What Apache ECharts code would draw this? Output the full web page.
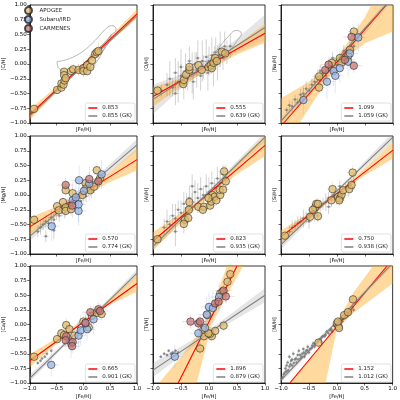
<!DOCTYPE html>
<html>
<head>
<meta charset="utf-8">
<script src="https://cdn.jsdelivr.net/npm/echarts@6/dist/echarts.min.js"></script>
<style>
  html, body { margin: 0; padding: 0; background: #fff; }
  #chart { width: 400px; height: 400px; }
</style>
</head>
<body>
<div id="chart"></div>
<script>
// panel order: row by row
const elements = ['[C/H]', '[O/H]', '[Na/H]', '[Mg/H]', '[Al/H]', '[Si/H]', '[Ca/H]', '[Ti/H]', '[Ni/H]'];
const redLabels = ['0.853', '0.555', '1.099', '0.570', '0.823', '0.750', '0.665', '1.896', '1.152'];
const gkLabels = ['0.855 (GK)', '0.639 (GK)', '1.059 (GK)', '0.774 (GK)', '0.935 (GK)', '0.938 (GK)', '0.901 (GK)', '0.879 (GK)', '1.012 (GK)'];
const surveys = ['APOGEE', 'Subaru/IRD', 'CARMENES'];

// fitted lines, [x, y] end points
const redLines = [
  [[-1, -0.86], [1, 0.85]],
  [[-1, -0.55], [1, 0.52]],
  [[-0.95, -1], [0.88, 1]],
  [[-1, -0.54], [1, 0.6]],
  [[-1, -0.78], [1, 0.84]],
  [[-1, -0.71], [1, 0.76]],
  [[-1, -0.62], [1, 0.7]],
  [[-0.55, -1], [0.5, 1]],
  [[-0.84, -1], [0.9, 1]]
];
const gkLines = [
  [[-1, -0.88], [1, 0.82]],
  [[-1, -0.6], [1, 0.62]],
  [[-1, -0.97], [0.87, 1]],
  [[-1, -0.7], [1, 0.85]],
  [[-1, -0.87], [1, 0.98]],
  [[-1, -0.84], [1, 0.98]],
  [[-1, -0.92], [1, 0.88]],
  [[-1, -0.78], [1, 0.5]],
  [[-1, -0.95], [1, 1.05]]
];

// confidence bands, [x, low, high]
const orangeBands = [
  [[-1, -0.95, -0.77], [-0.5, -0.48, -0.38], [-0.1, -0.11, -0.07], [0.5, 0.38, 0.47], [1, 0.77, 0.93]],
  [[-1, -0.72, -0.4], [-0.5, -0.38, -0.24], [-0.1, -0.15, -0.09], [0.5, 0.16, 0.33], [1, 0.36, 0.68]],
  [[-1, -1.5, -0.58], [-0.5, -0.75, -0.3], [0, -0.02, 0.1], [0.5, 0.35, 0.8], [1, 0.55, 1.7]],
  [[-1, -0.68, -0.38], [-0.5, -0.35, -0.2], [0, -0.02, 0.04], [0.5, 0.22, 0.4], [1, 0.42, 0.78]],
  [[-1, -0.93, -0.63], [-0.5, -0.47, -0.3], [-0.05, -0.08, -0.02], [0.5, 0.35, 0.55], [1, 0.66, 1.0]],
  [[-1, -0.82, -0.6], [-0.5, -0.4, -0.3], [0, 0.0, 0.04], [0.5, 0.33, 0.46], [1, 0.62, 0.9]],
  [[-1, -0.73, -0.51], [-0.5, -0.33, -0.23], [0.1, 0.1, 0.14], [0.5, 0.34, 0.44], [1, 0.56, 0.84]],
  [[-1, -3.9, -1.12], [-0.5, -2.0, -0.55], [-0.22, -1.0, -0.2], [0.05, 0.0, 0.29], [0.32, 0.5, 1.0], [0.61, 1.0, 1.8], [1, 1.7, 2.8]],
  [[-1, -3, -1.15], [-0.5, -2.3, -0.6], [-0.2, -1.0, -0.25], [0, -0.08, 0.03], [0.3, 0.2, 0.55], [0.65, 0.45, 1.0], [1, 0.7, 1.6]]
];
const grayBands = [
  [[-1, -0.92, -0.84], [0, -0.045, -0.015], [1, 0.78, 0.86]],
  [[-1, -0.85, -0.35], [-0.5, -0.42, -0.18], [0, -0.05, 0.07], [0.5, 0.19, 0.43], [1, 0.4, 0.84]],
  [[-1, -1.03, -0.91], [0, -0.05, 0.05], [1, 1.08, 1.22]],
  [[-1, -0.78, -0.62], [0, 0.05, 0.1], [1, 0.75, 0.95]],
  [[-1, -0.95, -0.79], [0, 0.04, 0.09], [1, 0.9, 1.06]],
  [[-1, -0.92, -0.76], [0, 0.05, 0.09], [1, 0.9, 1.06]],
  [[-1, -0.98, -0.86], [0, -0.04, 0.0], [1, 0.82, 0.94]],
  [[-1, -0.9, -0.66], [0, -0.18, -0.1], [1, 0.38, 0.62]],
  [[-1, -1.0, -0.9], [0, 0.02, 0.08], [1, 1.0, 1.1]]
];

// density contours of the GK sample, [x, y] vertices
const contours = [
  [
    [[-0.49, 0.04], [-0.26, 0.09], [0.0, 0.22], [0.22, 0.4], [0.46, 0.63], [0.55, 0.65], [0.61, 0.58], [0.49, 0.46], [0.37, 0.23], [0.25, 0.04], [0.1, -0.1], [-0.08, -0.13], [-0.32, -0.13], [-0.46, -0.07], [-0.49, 0.04]],
    [[0.12, 0.14], [0.3, 0.28], [0.45, 0.42], [0.52, 0.5], [0.47, 0.36], [0.32, 0.18], [0.18, 0.08], [0.12, 0.14]]
  ],
  [
    [[0.02, 0.1], [0.18, 0.28], [0.32, 0.44], [0.49, 0.57], [0.58, 0.52], [0.49, 0.38], [0.38, 0.24], [0.2, 0.1], [0.05, 0.04], [0.02, 0.1]],
    [[-0.45, -0.15], [-0.3, -0.02], [-0.1, 0.05], [0.0, 0.0], [-0.15, -0.1], [-0.35, -0.22], [-0.45, -0.15]]
  ],
  [], [], [], [], [], [], []
];

// stars, [x, y, xerr, yerr]
const apogee = [
  [[-0.92, -0.76, 0.05, 0.05], [-0.49, -0.44, 0.06, 0.06], [-0.41, -0.40, 0.05, 0.06], [-0.41, -0.33, 0.05, 0.05], [-0.37, -0.35, 0.06, 0.05], [-0.36, -0.13, 0.05, 0.06], [-0.36, -0.19, 0.05, 0.05], [-0.35, -0.28, 0.05, 0.06], [-0.33, -0.24, 0.06, 0.05], [-0.23, -0.12, 0.08, 0.08], [-0.19, -0.09, 0.08, 0.1], [-0.09, -0.10, 0.1, 0.1], [0.0, -0.07, 0.15, 0.15], [0.0, -0.12, 0.1, 0.1], [0.07, -0.02, 0.2, 0.1], [0.07, -0.12, 0.1, 0.08], [0.13, -0.05, 0.1, 0.1], [0.16, 0.06, 0.1, 0.12], [0.22, 0.17, 0.08, 0.1], [0.25, 0.20, 0.08, 0.1], [0.28, 0.22, 0.1, 0.15]],
  [[-0.92, -0.45, 0.05, 0.08], [-0.46, -0.34, 0.06, 0.1], [-0.45, -0.27, 0.05, 0.1], [-0.41, -0.18, 0.06, 0.1], [-0.35, -0.10, 0.05, 0.1], [-0.35, -0.05, 0.06, 0.12], [-0.19, -0.02, 0.08, 0.1], [-0.13, -0.10, 0.08, 0.12], [-0.01, -0.05, 0.1, 0.1], [0.03, -0.02, 0.08, 0.12], [0.05, -0.07, 0.1, 0.1], [0.08, 0.02, 0.08, 0.1], [0.11, 0.10, 0.08, 0.12], [0.14, 0.05, 0.1, 0.1], [0.23, 0.21, 0.08, 0.1], [0.29, 0.18, 0.08, 0.12]],
  [[-0.32, -0.40, 0.1, 0.1], [-0.32, -0.21, 0.12, 0.12], [-0.09, 0.02, 0.1, 0.1], [0.05, 0.10, 0.1, 0.12], [0.11, 0.07, 0.1, 0.1], [0.20, 0.13, 0.1, 0.1], [0.23, 0.24, 0.1, 0.12], [0.30, 0.55, 0.1, 0.1], [0.08, 0.02, 0.1, 0.1]],
  [[-0.92, -0.42, 0.05, 0.08], [-0.49, -0.19, 0.08, 0.1], [-0.46, -0.26, 0.08, 0.1], [-0.38, -0.12, 0.08, 0.1], [-0.33, -0.21, 0.08, 0.12], [-0.33, -0.27, 0.08, 0.1], [-0.33, 0.08, 0.08, 0.1], [-0.20, 0.03, 0.1, 0.1], [-0.23, -0.24, 0.1, 0.12], [-0.02, 0.0, 0.1, 0.1], [0.04, 0.20, 0.1, 0.12], [0.05, 0.11, 0.1, 0.1], [0.13, 0.08, 0.1, 0.1], [0.25, 0.42, 0.1, 0.12], [0.31, 0.28, 0.1, 0.1], [0.20, 0.14, 0.1, 0.1]],
  [[-0.92, -0.75, 0.05, 0.06], [-0.43, -0.42, 0.08, 0.1], [-0.37, -0.39, 0.08, 0.1], [-0.45, -0.49, 0.06, 0.08], [-0.36, -0.25, 0.08, 0.1], [-0.35, -0.12, 0.08, 0.1], [-0.19, -0.20, 0.1, 0.1], [-0.09, -0.20, 0.1, 0.12], [-0.11, -0.25, 0.1, 0.1], [0.02, -0.18, 0.1, 0.1], [0.04, -0.11, 0.1, 0.12], [0.06, 0.0, 0.1, 0.1], [0.10, -0.03, 0.1, 0.1], [0.13, -0.09, 0.1, 0.1], [0.20, 0.0, 0.1, 0.12], [0.19, 0.09, 0.1, 0.1], [0.25, 0.09, 0.1, 0.1], [0.27, 0.40, 0.1, 0.12], [0.30, 0.23, 0.1, 0.1], [-0.01, -0.05, 0.1, 0.1]],
  [[-0.93, -0.69, 0.05, 0.06], [-0.48, -0.37, 0.08, 0.1], [-0.39, -0.21, 0.08, 0.1], [-0.37, -0.15, 0.08, 0.1], [-0.34, -0.15, 0.08, 0.12], [-0.43, -0.25, 0.08, 0.1], [-0.34, -0.36, 0.08, 0.1], [-0.08, 0.10, 0.1, 0.12], [-0.10, -0.09, 0.1, 0.1], [0.02, -0.03, 0.1, 0.1], [0.05, -0.06, 0.1, 0.12], [0.08, 0.0, 0.1, 0.1], [0.11, 0.08, 0.1, 0.1], [0.22, 0.10, 0.1, 0.12], [0.26, 0.17, 0.1, 0.1], [0.28, 0.38, 0.1, 0.12], [0.04, -0.09, 0.1, 0.1]],
  [[-0.92, -0.55, 0.05, 0.06], [-0.49, -0.25, 0.08, 0.1], [-0.41, -0.15, 0.08, 0.1], [-0.32, -0.01, 0.08, 0.12], [-0.36, -0.18, 0.08, 0.1], [-0.26, -0.08, 0.1, 0.1], [-0.17, -0.19, 0.1, 0.12], [0.0, 0.05, 0.1, 0.1], [0.10, -0.05, 0.1, 0.1], [0.16, 0.15, 0.1, 0.12], [0.25, 0.20, 0.1, 0.1], [0.34, 0.18, 0.1, 0.1]],
  [[-0.16, -0.41, 0.1, 0.12], [-0.09, -0.20, 0.1, 0.1], [0.05, -0.20, 0.1, 0.1], [0.02, -0.16, 0.1, 0.12], [0.11, -0.11, 0.1, 0.1], [0.26, -0.02, 0.1, 0.1], [-0.10, -0.09, 0.1, 0.1], [-0.01, -0.15, 0.1, 0.12], [-0.03, 0.16, 0.1, 0.1], [0.20, 0.53, 0.1, 0.12], [0.24, 0.56, 0.1, 0.1], [0.33, 0.73, 0.1, 0.12], [0.38, 0.86, 0.1, 0.1]],
  [[-0.33, -0.31, 0.06, 0.06], [0.0, 0.02, 0.06, 0.06], [0.03, -0.03, 0.06, 0.06], [0.04, -0.06, 0.06, 0.06], [0.13, 0.16, 0.06, 0.06], [0.20, 0.21, 0.06, 0.06], [0.29, 0.43, 0.06, 0.06], [0.02, 0.05, 0.06, 0.06]]
];
const ird = [
  [], [],
  [[-0.60, -0.61, 0.15, 0.25], [-0.18, -0.30, 0.15, 0.3], [-0.06, -0.12, 0.15, 0.25], [-0.03, -0.20, 0.15, 0.3], [0.05, -0.07, 0.15, 0.25], [0.23, 0.18, 0.15, 0.3], [0.38, 0.45, 0.15, 0.25], [0.20, 0.04, 0.15, 0.25]],
  [[-0.59, -0.53, 0.15, 0.25], [-0.20, -0.09, 0.15, 0.3], [-0.09, -0.27, 0.15, 0.25], [-0.09, -0.16, 0.15, 0.3], [-0.08, 0.25, 0.15, 0.25], [0.01, 0.07, 0.15, 0.25], [0.11, 0.19, 0.15, 0.3], [0.34, 0.35, 0.15, 0.25], [-0.14, -0.04, 0.15, 0.25]],
  [], [],
  [[-0.60, -0.69, 0.15, 0.2], [-0.23, -0.32, 0.15, 0.25], [-0.09, -0.19, 0.15, 0.2], [-0.05, -0.10, 0.15, 0.25], [0.07, -0.08, 0.15, 0.2], [0.19, 0.09, 0.15, 0.25], [0.04, 0.02, 0.15, 0.2]],
  [[-0.61, -0.55, 0.15, 0.2], [-0.19, -0.15, 0.15, 0.25], [-0.07, -0.06, 0.15, 0.2], [0.0, 0.30, 0.15, 0.25], [0.07, 0.28, 0.15, 0.3], [0.18, 0.47, 0.15, 0.25], [-0.04, 0.17, 0.15, 0.3]],
  []
];
const carmenes = [
  [], [],
  [[-0.21, -0.10, 0.15, 0.12], [-0.15, -0.01, 0.15, 0.12], [0.14, 0.07, 0.15, 0.12], [0.30, -0.03, 0.15, 0.12], [0.26, 0.46, 0.15, 0.12]],
  [[-0.33, 0.17, 0.15, 0.12], [-0.21, -0.18, 0.15, 0.12], [0.11, 0.27, 0.15, 0.12], [0.28, 0.23, 0.15, 0.12]],
  [], [],
  [[-0.32, -0.20, 0.15, 0.12], [-0.33, -0.27, 0.15, 0.12], [-0.20, -0.30, 0.15, 0.12], [-0.21, -0.37, 0.15, 0.12], [0.04, 0.03, 0.15, 0.12], [0.13, 0.21, 0.15, 0.12], [0.28, 0.26, 0.15, 0.12], [0.31, 0.23, 0.15, 0.12]],
  [[-0.33, 0.05, 0.15, 0.12], [-0.19, 0.02, 0.15, 0.12], [-0.16, 0.05, 0.15, 0.12], [0.11, 0.36, 0.15, 0.12], [0.17, 0.39, 0.15, 0.12], [0.26, 0.58, 0.15, 0.12], [0.30, 0.48, 0.15, 0.12]],
  []
];
const gkStars = [
  [],
  [[-0.75, -0.35, 0.05, 0.2], [-0.7, -0.25, 0.05, 0.3], [-0.65, -0.4, 0.06, 0.15], [-0.6, -0.15, 0.05, 0.25], [-0.55, -0.3, 0.05, 0.35], [-0.5, -0.2, 0.06, 0.2], [-0.5, -0.05, 0.05, 0.3], [-0.45, -0.35, 0.05, 0.25], [-0.42, -0.12, 0.06, 0.3], [-0.38, -0.25, 0.05, 0.2], [-0.35, 0.05, 0.05, 0.25], [-0.3, -0.15, 0.06, 0.35], [-0.28, -0.3, 0.05, 0.3], [-0.25, 0.0, 0.05, 0.2], [-0.22, -0.1, 0.06, 0.3], [-0.2, 0.1, 0.05, 0.3], [-0.15, -0.2, 0.05, 0.25], [-0.12, 0.05, 0.06, 0.35], [-0.1, -0.05, 0.05, 0.2], [-0.05, 0.12, 0.05, 0.3], [-0.02, -0.15, 0.06, 0.3], [0.0, 0.05, 0.05, 0.25], [0.05, 0.15, 0.06, 0.3], [0.08, -0.08, 0.05, 0.3], [0.1, 0.1, 0.05, 0.2], [0.12, 0.2, 0.06, 0.25], [0.15, 0.02, 0.05, 0.3], [0.18, 0.15, 0.05, 0.2], [0.2, 0.25, 0.06, 0.3], [0.25, 0.1, 0.05, 0.2], [0.28, 0.3, 0.05, 0.25], [0.32, 0.2, 0.05, 0.2], [0.38, 0.3, 0.05, 0.2], [-0.85, -0.45, 0.05, 0.1], [-0.6, -0.5, 0.06, 0.2]],
  [[-0.9, -0.78, 0.05, 0.05], [-0.85, -0.7, 0.05, 0.08], [-0.8, -0.72, 0.05, 0.1], [-0.75, -0.6, 0.05, 0.08], [-0.7, -0.65, 0.05, 0.1], [-0.65, -0.52, 0.05, 0.1], [-0.6, -0.5, 0.05, 0.1], [-0.55, -0.42, 0.05, 0.12], [-0.5, -0.45, 0.05, 0.1], [-0.45, -0.35, 0.05, 0.1], [-0.4, -0.3, 0.05, 0.12], [-0.35, -0.22, 0.05, 0.1], [-0.3, -0.28, 0.05, 0.12], [-0.25, -0.15, 0.05, 0.1], [-0.2, -0.2, 0.05, 0.12], [-0.15, -0.05, 0.05, 0.1], [-0.1, -0.12, 0.05, 0.1], [-0.05, 0.0, 0.05, 0.12], [0.0, -0.02, 0.05, 0.1], [0.05, 0.08, 0.05, 0.1], [0.1, 0.05, 0.05, 0.12], [0.15, 0.15, 0.05, 0.1], [0.2, 0.12, 0.05, 0.1], [0.25, 0.25, 0.05, 0.12], [0.3, 0.3, 0.05, 0.1], [-0.08, 0.1, 0.05, 0.1], [0.12, 0.22, 0.05, 0.1], [-0.3, -0.12, 0.05, 0.1]],
  [[-0.85, -0.62, 0.05, 0.1], [-0.8, -0.55, 0.05, 0.12], [-0.75, -0.5, 0.05, 0.1], [-0.7, -0.45, 0.05, 0.12], [-0.65, -0.48, 0.05, 0.1], [-0.6, -0.38, 0.05, 0.12], [-0.55, -0.42, 0.05, 0.1], [-0.5, -0.3, 0.05, 0.12], [-0.45, -0.35, 0.05, 0.1], [-0.4, -0.25, 0.05, 0.12], [-0.35, -0.3, 0.05, 0.1], [-0.3, -0.18, 0.05, 0.12], [-0.25, -0.22, 0.05, 0.1], [-0.2, -0.12, 0.05, 0.12], [-0.15, -0.15, 0.05, 0.1], [-0.1, -0.05, 0.05, 0.12], [-0.05, -0.1, 0.05, 0.1], [0.0, 0.02, 0.05, 0.12], [0.05, -0.02, 0.05, 0.1], [0.1, 0.1, 0.05, 0.12], [0.15, 0.05, 0.05, 0.1], [0.2, 0.15, 0.05, 0.12], [0.25, 0.2, 0.05, 0.1], [0.3, 0.25, 0.05, 0.12], [-0.55, -0.6, 0.05, 0.15], [-0.7, -0.7, 0.05, 0.1]],
  [[-0.8, -0.55, 0.05, 0.15], [-0.75, -0.45, 0.05, 0.2], [-0.7, -0.5, 0.05, 0.15], [-0.65, -0.35, 0.05, 0.2], [-0.6, -0.4, 0.05, 0.25], [-0.55, -0.25, 0.05, 0.15], [-0.5, -0.3, 0.05, 0.2], [-0.45, -0.15, 0.05, 0.2], [-0.4, -0.22, 0.05, 0.25], [-0.35, -0.05, 0.05, 0.2], [-0.3, -0.12, 0.05, 0.15], [-0.25, 0.05, 0.05, 0.2], [-0.2, -0.05, 0.05, 0.25], [-0.15, 0.1, 0.05, 0.2], [-0.1, 0.0, 0.05, 0.15], [-0.05, 0.15, 0.05, 0.2], [0.0, 0.05, 0.05, 0.25], [0.05, 0.2, 0.05, 0.2], [0.1, 0.12, 0.05, 0.15], [0.15, 0.28, 0.05, 0.2], [0.2, 0.2, 0.05, 0.2], [0.25, 0.35, 0.05, 0.15], [0.3, 0.3, 0.05, 0.2], [-0.45, -0.45, 0.05, 0.2], [-0.3, 0.15, 0.05, 0.2], [-0.6, -0.62, 0.05, 0.25]],
  [[-0.85, -0.62, 0.05, 0.1], [-0.8, -0.55, 0.05, 0.12], [-0.75, -0.52, 0.05, 0.1], [-0.7, -0.48, 0.05, 0.12], [-0.65, -0.45, 0.05, 0.1], [-0.6, -0.4, 0.05, 0.15], [-0.55, -0.38, 0.05, 0.1], [-0.5, -0.32, 0.05, 0.12], [-0.45, -0.28, 0.05, 0.1], [-0.4, -0.3, 0.05, 0.15], [-0.35, -0.22, 0.05, 0.1], [-0.3, -0.2, 0.05, 0.12], [-0.25, -0.15, 0.05, 0.1], [-0.2, -0.12, 0.05, 0.15], [-0.15, -0.05, 0.05, 0.1], [-0.1, -0.08, 0.05, 0.12], [-0.05, 0.0, 0.05, 0.1], [0.0, -0.02, 0.05, 0.15], [0.05, 0.05, 0.05, 0.1], [0.1, 0.02, 0.05, 0.12], [0.15, 0.1, 0.05, 0.1], [0.2, 0.12, 0.05, 0.15], [0.25, 0.18, 0.05, 0.1], [0.3, 0.22, 0.05, 0.12], [-0.35, -0.35, 0.05, 0.1], [-0.15, -0.2, 0.05, 0.12], [0.05, 0.15, 0.05, 0.1], [-0.5, -0.45, 0.05, 0.12]],
  [[-0.85, -0.66, 0.03, 0.03], [-0.8, -0.62, 0.03, 0.03], [-0.77, -0.58, 0.03, 0.03], [-0.72, -0.55, 0.03, 0.03], [-0.68, -0.5, 0.03, 0.04], [-0.6, -0.45, 0.03, 0.04], [-0.3, -0.2, 0.05, 0.08], [-0.1, -0.05, 0.05, 0.08], [0.05, 0.05, 0.05, 0.08], [0.15, 0.1, 0.05, 0.08], [0.2, 0.18, 0.05, 0.08]],
  [[-0.86, -0.55, 0.03, 0.03], [-0.8, -0.5, 0.03, 0.03], [-0.75, -0.52, 0.03, 0.03], [-0.72, -0.45, 0.03, 0.03], [-0.68, -0.5, 0.03, 0.03], [-0.65, -0.48, 0.03, 0.03], [-0.6, -0.45, 0.03, 0.03], [-0.55, -0.48, 0.03, 0.03]],
  [[-0.95, -0.85, 0.03, 0.04], [-0.92, -0.75, 0.03, 0.04], [-0.9, -0.8, 0.03, 0.04], [-0.88, -0.65, 0.03, 0.04], [-0.85, -0.72, 0.03, 0.04], [-0.85, -0.55, 0.03, 0.04], [-0.82, -0.62, 0.03, 0.04], [-0.8, -0.7, 0.03, 0.04], [-0.78, -0.5, 0.03, 0.04], [-0.75, -0.6, 0.03, 0.04], [-0.72, -0.65, 0.03, 0.04], [-0.7, -0.52, 0.03, 0.04], [-0.68, -0.45, 0.03, 0.04], [-0.65, -0.58, 0.03, 0.04], [-0.62, -0.5, 0.03, 0.04], [-0.6, -0.42, 0.03, 0.04], [-0.58, -0.55, 0.03, 0.04], [-0.55, -0.45, 0.03, 0.04], [-0.52, -0.38, 0.03, 0.04], [-0.5, -0.48, 0.03, 0.04], [-0.45, -0.4, 0.03, 0.04], [-0.42, -0.32, 0.03, 0.04], [-0.4, -0.38, 0.03, 0.04], [-0.35, -0.3, 0.03, 0.04], [-0.3, -0.25, 0.03, 0.04], [-0.28, -0.3, 0.03, 0.04], [-0.25, -0.2, 0.03, 0.04], [-0.2, -0.18, 0.03, 0.04], [-0.18, -0.12, 0.03, 0.04], [-0.15, -0.15, 0.03, 0.04], [-0.1, -0.08, 0.03, 0.04], [-0.08, -0.12, 0.03, 0.04], [-0.05, -0.02, 0.03, 0.04], [0.0, 0.0, 0.03, 0.04], [0.03, 0.05, 0.03, 0.04], [0.05, -0.02, 0.03, 0.04], [0.08, 0.08, 0.03, 0.04], [0.1, 0.05, 0.03, 0.04], [0.15, 0.12, 0.03, 0.04], [0.18, 0.18, 0.03, 0.04], [0.2, 0.15, 0.03, 0.04], [0.25, 0.22, 0.03, 0.04], [0.28, 0.3, 0.03, 0.04], [0.3, 0.25, 0.03, 0.04],
   [-0.97, -0.9, 0.03, 0.04], [-0.93, -0.82, 0.03, 0.04], [-0.9, -0.7, 0.03, 0.04], [-0.87, -0.78, 0.03, 0.04], [-0.83, -0.68, 0.03, 0.04], [-0.8, -0.6, 0.03, 0.04], [-0.77, -0.66, 0.03, 0.04], [-0.73, -0.58, 0.03, 0.04], [-0.69, -0.6, 0.03, 0.04], [-0.66, -0.52, 0.03, 0.04], [-0.63, -0.55, 0.03, 0.04], [-0.59, -0.48, 0.03, 0.04], [-0.56, -0.5, 0.03, 0.04], [-0.53, -0.44, 0.03, 0.04], [-0.48, -0.42, 0.03, 0.04], [-0.44, -0.36, 0.03, 0.04], [-0.38, -0.33, 0.03, 0.04], [-0.33, -0.27, 0.03, 0.04], [-0.27, -0.22, 0.03, 0.04], [-0.22, -0.2, 0.03, 0.04], [-0.12, -0.1, 0.03, 0.04], [-0.02, 0.02, 0.03, 0.04], [0.06, 0.06, 0.03, 0.04], [0.12, 0.1, 0.03, 0.04], [0.22, 0.2, 0.03, 0.04]]
];

const FONT = 'DejaVu Sans';
const colLeft = [25, 153, 281];
const rowTop = [5, 136, 266];
const panelW = 112, panelH = 118;

const surveyFill = ['rgba(222,186,108,0.92)', 'rgba(150,182,232,0.92)', 'rgba(198,118,118,0.92)'];
const surveyErr = ['rgba(214,176,96,0.35)', 'rgba(120,160,230,0.3)', 'rgba(200,110,110,0.3)'];

function minus(s) { return s.replace('-', '\u2212'); }

function errorRender(color) {
  return function (params, api) {
    const x = api.value(0), y = api.value(1), ex = api.value(2), ey = api.value(3);
    const a = api.coord([x - ex, y]), b = api.coord([x + ex, y]);
    const c = api.coord([x, y - ey]), d = api.coord([x, y + ey]);
    return {
      type: 'group',
      children: [
        { type: 'line', shape: { x1: a[0], y1: a[1], x2: b[0], y2: b[1] }, style: { stroke: color, lineWidth: 0.8 } },
        { type: 'line', shape: { x1: c[0], y1: c[1], x2: d[0], y2: d[1] }, style: { stroke: color, lineWidth: 0.8 } }
      ]
    };
  };
}

function bandRender(band, color) {
  return function (params, api) {
    if (params.dataIndex !== 0) return null;
    const upper = band.map(p => api.coord([p[0], p[2]]));
    const lower = band.slice().reverse().map(p => api.coord([p[0], p[1]]));
    return { type: 'polygon', shape: { points: upper.concat(lower) }, style: { fill: color } };
  };
}

const grids = [], xAxes = [], yAxes = [], series = [];
const legends = [{
  left: 24, top: 6, orient: 'vertical', itemGap: 0, itemWidth: 12, itemHeight: 7,
  selectedMode: false, padding: 0,
  textStyle: { fontSize: 5.5, fontFamily: FONT, color: '#222' },
  data: surveys.map(s => ({ name: s, icon: 'circle' }))
}];

for (let i = 0; i < 9; i++) {
  const r = Math.floor(i / 3), c = i % 3;
  grids.push({ left: colLeft[c], top: rowTop[r], width: panelW, height: panelH, show: true, borderColor: '#000', borderWidth: 0.8, backgroundColor: '#fff' });
  xAxes.push({
    gridIndex: i, type: 'value', min: -1, max: 1, interval: 0.5,
    name: '[Fe/H]', nameLocation: 'middle', nameGap: r === 2 ? 11 : 4,
    nameTextStyle: { fontSize: 5, fontFamily: FONT, color: '#000' },
    axisLine: { show: true, onZero: false, lineStyle: { color: '#000', width: 0.8 } },
    axisTick: { show: true, length: 2.5, lineStyle: { color: '#000', width: 0.6 } },
    axisLabel: { show: r === 2, fontSize: 5.5, fontFamily: FONT, color: '#000', margin: 3, showMinLabel: true, showMaxLabel: true,
      formatter: v => minus(v.toFixed(1)) },
    splitLine: { show: false }
  });
  yAxes.push({
    gridIndex: i, type: 'value', min: -1, max: 1, interval: 0.25,
    name: elements[i], nameLocation: 'middle', nameGap: c === 0 ? 18 : 4, nameRotate: 90,
    nameTextStyle: { fontSize: 5, fontFamily: FONT, color: '#000' },
    axisLine: { show: true, onZero: false, lineStyle: { color: '#000', width: 0.8 } },
    axisTick: { show: true, length: 2.5, lineStyle: { color: '#000', width: 0.6 } },
    axisLabel: { show: c === 0, fontSize: 5.5, fontFamily: FONT, color: '#000', margin: 3, showMinLabel: true, showMaxLabel: true,
      formatter: v => minus(v.toFixed(2)) },
    splitLine: { show: false }
  });

  series.push({ type: 'custom', xAxisIndex: i, yAxisIndex: i, data: grayBands[i], clip: true, silent: true, z: 1,
    renderItem: bandRender(grayBands[i], 'rgba(150,150,150,0.25)') });
  series.push({ type: 'custom', xAxisIndex: i, yAxisIndex: i, data: orangeBands[i], clip: true, silent: true, z: 1,
    renderItem: bandRender(orangeBands[i], 'rgba(255,170,40,0.45)') });

  contours[i].forEach(loop => series.push({
    type: 'line', xAxisIndex: i, yAxisIndex: i, data: loop, symbol: 'none', smooth: 0.4, silent: true, z: 2,
    lineStyle: { color: '#888', width: 0.6 }
  }));

  series.push({ type: 'custom', xAxisIndex: i, yAxisIndex: i, data: gkStars[i], clip: true, silent: true, z: 3,
    renderItem: errorRender('rgba(120,120,120,0.42)') });
  series.push({ type: 'scatter', xAxisIndex: i, yAxisIndex: i, data: gkStars[i], symbol: 'circle', symbolSize: 2.5, silent: true, z: 3,
    itemStyle: { color: 'rgba(110,110,110,0.85)' } });

  [apogee, ird, carmenes].forEach((set, k) => {
    series.push({ type: 'custom', xAxisIndex: i, yAxisIndex: i, data: set[i], clip: true, silent: true, z: 4,
      renderItem: errorRender(surveyErr[k]) });
  });

  series.push({ type: 'line', name: redLabels[i], xAxisIndex: i, yAxisIndex: i, data: redLines[i], symbol: 'none', silent: true, z: 5,
    color: '#ff0000', lineStyle: { color: '#ff0000', width: 1.1 } });
  series.push({ type: 'line', name: gkLabels[i], xAxisIndex: i, yAxisIndex: i, data: gkLines[i], symbol: 'none', silent: true, z: 5,
    color: '#808080', lineStyle: { color: '#808080', width: 1.1 } });

  [apogee, ird, carmenes].forEach((set, k) => {
    series.push({ type: 'scatter', name: surveys[k], xAxisIndex: i, yAxisIndex: i, data: set[i], symbol: 'circle', symbolSize: 7.5, silent: true, z: 6,
      itemStyle: { color: surveyFill[k], borderColor: '#222', borderWidth: 0.7 } });
  });

  legends.push({
    right: 400 - (colLeft[c] + panelW) + 2, bottom: 400 - (rowTop[r] + panelH) + 2,
    orient: 'vertical', itemGap: 2, itemWidth: 9, itemHeight: 1.5, selectedMode: false,
    padding: [2, 3], borderColor: '#ccc', borderWidth: 0.6, borderRadius: 2, backgroundColor: '#fff',
    textStyle: { fontSize: 5.5, fontFamily: FONT, color: '#222' },
    data: [{ name: redLabels[i], icon: 'rect' }, { name: gkLabels[i], icon: 'rect' }]
  });
}

const myChart = echarts.init(document.getElementById('chart'));
myChart.setOption({
  backgroundColor: '#fff',
  animation: false,
  textStyle: { fontFamily: FONT },
  grid: grids,
  xAxis: xAxes,
  yAxis: yAxes,
  legend: legends,
  series: series
});
</script>
</body>
</html>
